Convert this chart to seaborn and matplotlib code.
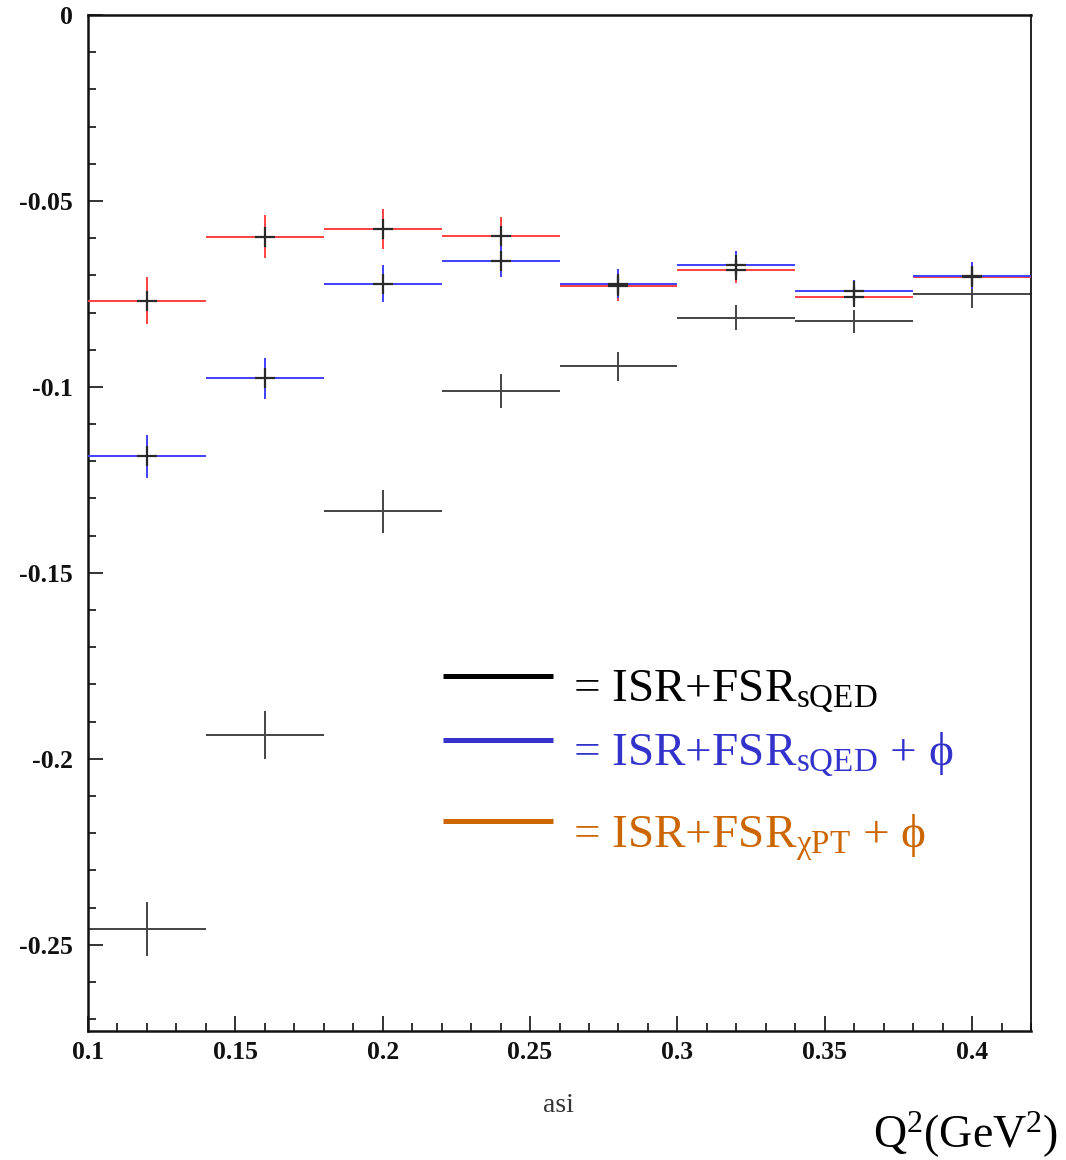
import numpy as np
import pandas as pd
import matplotlib
matplotlib.use("Agg")
import matplotlib.pyplot as plt
import seaborn as sns
from matplotlib.ticker import MultipleLocator, FixedLocator

# ---- data ----
bin_lo = [0.10, 0.14, 0.18, 0.22, 0.26, 0.30, 0.34, 0.38]
bin_hi = [0.14, 0.18, 0.22, 0.26, 0.30, 0.34, 0.38, 0.42]

black_val = [-0.2457, -0.1936, -0.1335, -0.1012, -0.0945, -0.0814, -0.0824, -0.0749]
black_err = [0.0073, 0.0065, 0.0057, 0.0046, 0.0040, 0.0034, 0.0031, 0.0040]

blue_val = [-0.1187, -0.0977, -0.0722, -0.0661, -0.0722, -0.0671, -0.0741, -0.0701]
blue_err = [0.0058, 0.0055, 0.0050, 0.0044, 0.0040, 0.0037, 0.0028, 0.0037]

red_val = [-0.0768, -0.0596, -0.0575, -0.0593, -0.0728, -0.0687, -0.0757, -0.0704]
red_err = [0.0063, 0.0058, 0.0054, 0.0050, 0.0040, 0.0034, 0.0027, 0.0034]

x_ticks = [0.1, 0.15, 0.2, 0.25, 0.3, 0.35, 0.4]
x_ticklabels = ["0.1", "0.15", "0.2", "0.25", "0.3", "0.35", "0.4"]
y_ticks = [0, -0.05, -0.1, -0.15, -0.2, -0.25]
y_ticklabels = ["0", "-0.05", "-0.1", "-0.15", "-0.2", "-0.25"]

legend_labels = [r"= ISR+FSR$_{\mathrm{sQED}}$",
                 r"= ISR+FSR$_{\mathrm{sQED}}$ + $\mathrm{\phi}$",
                 r"= ISR+FSR$_{\mathrm{\chi PT}}$ + $\mathrm{\phi}$"]
legend_colors = ["#000000", "#3333cc", "#cc6600"]

# ---- style ----
sns.set_theme(style="ticks")
plt.rcParams["font.family"] = ["Liberation Serif", "DejaVu Serif"]
plt.rcParams["mathtext.fontset"] = "custom"
plt.rcParams["mathtext.rm"] = "Liberation Serif"
plt.rcParams["mathtext.it"] = "Liberation Serif:italic"
plt.rcParams["mathtext.bf"] = "Liberation Serif:bold"

fig = plt.figure(figsize=(10.66, 11.60), dpi=100)
ax = fig.add_axes([88 / 1066, (1160 - 1031) / 1160, 943 / 1066, 1016 / 1160])

def make_df(vals, errs):
    lo = np.array(bin_lo); hi = np.array(bin_hi)
    return pd.DataFrame({"x": (lo + hi) / 2, "xerr": (hi - lo) / 2,
                         "y": np.array(vals), "yerr": np.array(errs)})

df_black = make_df(black_val, black_err)
df_blue = make_df(blue_val, blue_err)
df_red = make_df(red_val, red_err)

ax.errorbar(df_black["x"], df_black["y"], xerr=df_black["xerr"], yerr=df_black["yerr"],
            fmt="none", ecolor="#444444", elinewidth=1.4, capsize=0, zorder=2)
ax.errorbar(df_red["x"], df_red["y"], xerr=df_red["xerr"], yerr=df_red["yerr"],
            fmt="none", ecolor="#ff4040", elinewidth=1.4, capsize=0, zorder=3)
ax.errorbar(df_blue["x"], df_blue["y"], xerr=df_blue["xerr"], yerr=df_blue["yerr"],
            fmt="none", ecolor="#4040ff", elinewidth=1.4, capsize=0, zorder=4)

# black "+" markers at the coloured points
marks = pd.concat([df_red, df_blue], ignore_index=True)
sns.scatterplot(data=marks, x="x", y="y", marker="+", s=190, color="#2a2a2a",
                linewidth=1.6, ax=ax, zorder=5, legend=False)

ax.set_xlim(0.1, 0.42)
ax.set_ylim(-0.2732, 0)
ax.xaxis.set_major_locator(FixedLocator(x_ticks))
ax.set_xticklabels(x_ticklabels)
ax.yaxis.set_major_locator(FixedLocator(y_ticks))
ax.set_yticklabels(y_ticklabels)
ax.xaxis.set_minor_locator(MultipleLocator(0.01))
ax.yaxis.set_minor_locator(MultipleLocator(0.01))
ax.set_xlabel("")
ax.set_ylabel("")

ax.tick_params(which="both", direction="in", color="#222222", width=1.3)
ax.tick_params(which="major", length=11)
ax.tick_params(which="minor", length=5.5)
ax.tick_params(axis="x", which="major", pad=7)
ax.tick_params(axis="y", which="major", pad=11)
ax.tick_params(top=False, right=False, which="both")
for lbl in ax.get_xticklabels() + ax.get_yticklabels():
    lbl.set_fontweight("bold")
    lbl.set_fontsize(18.5)
    lbl.set_color("#111111")

for side in ["left", "bottom", "top"]:
    ax.spines[side].set_linewidth(1.8)
    ax.spines[side].set_color("#111111")
ax.spines["right"].set_linewidth(1.3)
ax.spines["right"].set_color("#111111")

# legend drawn manually
ly = [0.3494, 0.2864, 0.2067]
ty = [0.3238, 0.2608, 0.1801]
for lab, col, y1, y2 in zip(legend_labels, legend_colors, ly, ty):
    ax.plot([0.3765, 0.493], [y1, y1], transform=ax.transAxes, color=col,
            lw=3.6, solid_capstyle="butt", clip_on=False, zorder=6)
    ax.text(0.514, y2, lab, transform=ax.transAxes, color=col, fontsize=34,
            ha="left", va="baseline", zorder=6)

fig.text(559 / 1066, (1160 - 1112) / 1160, "asi", ha="center", va="baseline",
         fontsize=20, color="#333333")
fig.text(1058 / 1066, (1160 - 1148) / 1160, r"Q$^{2}$(GeV$^{2}$)", ha="right",
         va="baseline", fontsize=33, color="#000000")

fig.savefig("out.png", dpi=100)
